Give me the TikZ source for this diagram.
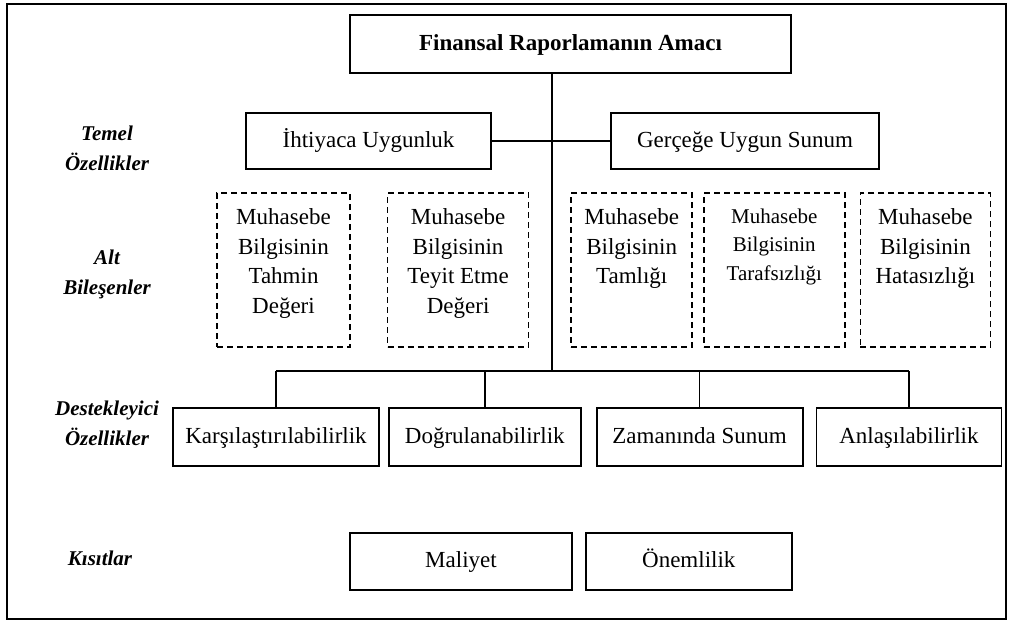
\documentclass[tikz,border=0pt]{standalone}
\usepackage{fontspec}
\setmainfont{Liberation Serif}
\usepackage{tikz}
\usetikzlibrary{positioning}
\tikzset{box/.style={draw, line width=0.9pt, inner sep=0pt, text height=8.5pt, text depth=2.5pt, font=\fontsize{11.5}{14.5}\selectfont},
  dbox/.style={draw, line width=0.8pt, dash pattern=on 3pt off 2pt, inner sep=0pt, minimum height=77pt},
  dtext/.style={inner sep=0pt, align=center, font=\fontsize{11.5}{14.75}\selectfont},
  side/.style={align=center, font=\fontsize{10.5}{15}\selectfont\bfseries\itshape},
  line/.style={line width=0.7pt}}

\begin{document}
\begin{tikzpicture}[x=0.5pt, y=-0.5pt]
		\useasboundingbox (0,0) rectangle (1012,622);
		\draw[line width=1pt] (7,4) rectangle (1006,619);
		% basliklar
		\node[side](L1) at (107,148){Temel\\Özellikler};
		\node[side](L2) at (107,274){Alt\\Bileşenler};
		\node[side](L3) at (107,423.5){Destekleyici\\Özellikler};
		\node[side](L4) at (100,558){Kısıtlar};
		% kutular
		\node[box, minimum width=220.5pt, minimum height=29pt](A) at (570.5,44){\textbf{Finansal Raporlamanın Amacı}};
		\node[box, minimum width=122.5pt, minimum height=28pt](B) at (368.5,141){İhtiyaca Uygunluk};
		\node[box, minimum width=134pt, minimum height=28pt](C) at (745,141){Gerçeğe Uygun Sunum};
		\node[dbox, minimum width=66.5pt](D1) at (283.5,270){};
		\node[dbox, minimum width=70.5pt, right=18pt of D1](D2){};
		\node[dbox, minimum width=60.5pt, right=20.5pt of D2](D3){};
		\node[dbox, minimum width=70.5pt, right=5pt of D3](D4){};
		\node[dbox, minimum width=65pt, right=7pt of D4](D5){};
		\node[dtext, below=8pt of D1.north](D1t){Muhasebe\\Bilgisinin\\Tahmin\\Değeri};
		\node[dtext, below=8pt of D2.north](D2t){Muhasebe\\Bilgisinin\\Teyit Etme\\Değeri};
		\node[dtext, below=8pt of D3.north](D3t){Muhasebe\\Bilgisinin\\Tamlığı};
		\node[dtext, below=8pt of D4.north, font=\fontsize{10.5}{14.25}\selectfont](D4t){Muhasebe\\Bilgisinin\\Tarafsızlığı};
		\node[dtext, below=8pt of D5.north](D5t){Muhasebe\\Bilgisinin\\Hatasızlığı};
		\node[box, minimum width=103pt, minimum height=29pt](E1) at (276,437){Karşılaştırılabilirlik};
		\node[box, minimum width=96pt, minimum height=29pt, right=4pt of E1](E2){Doğrulanabilirlik};
		\node[box, minimum width=103pt, minimum height=29pt, right=7pt of E2](E3){Zamanında Sunum};
		\node[box, minimum width=92.5pt, minimum height=29pt, right=6pt of E3](E4){Anlaşılabilirlik};
		\node[box, minimum width=111pt, minimum height=28.5pt](F1) at (461,561.5){Maliyet};
		\node[box, minimum width=103pt, minimum height=28.5pt, right=6pt of F1](F2){Önemlilik};
		% baglantilar
		\coordinate(T) at (552,371);
		\draw[line](A.south -| T) -- (T);
		\draw[line](B) -- (C);
		\draw[line](E1.north |- T) -- (E4.north |- T);
		\draw[line](E1.north |- T) -- (E1.north);
		\draw[line](E2.north |- T) -- (E2.north);
		\draw[line](E3.north |- T) -- (E3.north);
		\draw[line](E4.north |- T) -- (E4.north);
	\end{tikzpicture}
\end{document}
